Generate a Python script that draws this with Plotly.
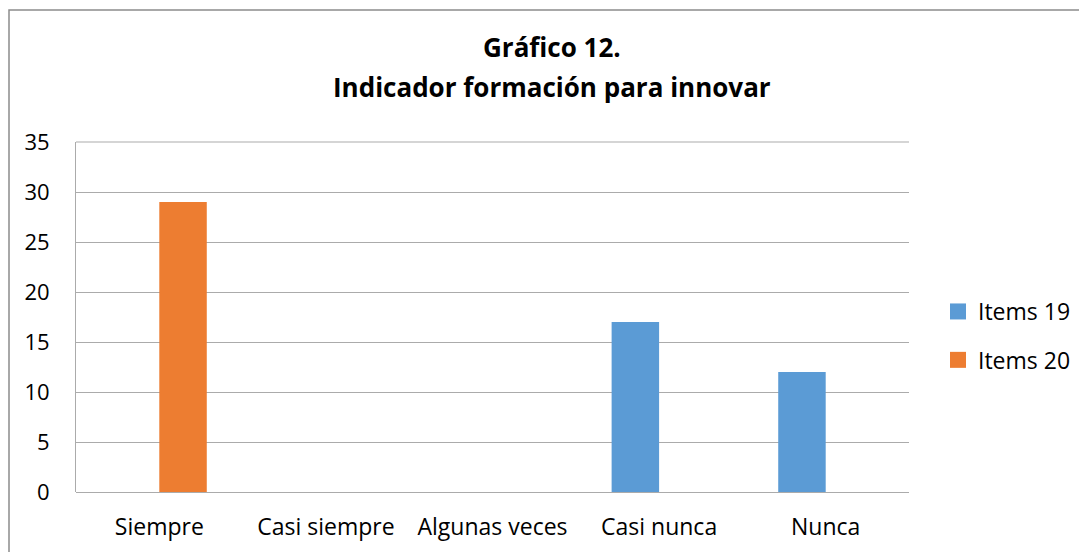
import plotly.graph_objects as go

categories = ["Siempre", "Casi siempre", "Algunas veces", "Casi nunca", "Nunca"]
items19 = [0, 0, 0, 17, 12]
items20 = [29, 0, 0, 0, 0]
y_ticks = [0, 5, 10, 15, 20, 25, 30, 35]
series_names = ["Items 19", "Items 20"]
series_colors = ["#5B9BD5", "#ED7D31"]

W, H = 1087, 552
OFF = 8  # page body margin offset
# plot area in page pixels
PL, PR, PT, PB = 76, 909, 142, 492
ml = PL - OFF
mr = W - (PR - OFF)
mt = PT - OFF
mb = H - (PB - OFF)
pw = W - ml - mr
ph = H - mt - mb

FONT = "'Open Sans', sans-serif"

def fx(p):
    return (p - OFF - ml) / pw

def fy(p):
    return (H - mb - (p - OFF)) / ph

fig = go.Figure()
for name, vals, col in zip(series_names, [items19, items20], series_colors):
    fig.add_trace(go.Bar(name=name, x=categories, y=vals, showlegend=False,
                         marker=dict(color=col, line=dict(width=0))))
for i, (name, col) in enumerate(zip(series_names, series_colors)):
    fig.add_trace(go.Scatter(name=name, x=[None], y=[None], mode="markers", legendgroup=f"g{i}",
                             marker=dict(symbol="square", size=16, color=col, line=dict(width=0))))

fig.update_layout(
    width=W, height=H,
    margin=dict(l=ml, r=mr, t=mt, b=mb, autoexpand=False),
    paper_bgcolor="white", plot_bgcolor="white",
    barmode="group", bargap=0.43, bargroupgap=0,
    font=dict(family=FONT, size=23, color="#000000"),
    showlegend=True,
    legend=dict(x=fx(938), y=fy(290), xanchor="left", yanchor="top",
                font=dict(family=FONT, size=23, color="#000000"),
                tracegroupgap=15.5, itemwidth=30, bgcolor="rgba(0,0,0,0)"),
    xaxis=dict(showgrid=False, showline=False, zeroline=False,
               ticks="outside", ticklen=14, tickcolor="rgba(0,0,0,0)",
               tickfont=dict(family=FONT, size=23)),
    yaxis=dict(range=[0, 35], tickvals=y_ticks, showgrid=True, gridcolor="#ABABAB", gridwidth=1,
               zeroline=True, zerolinecolor="#ABABAB", zerolinewidth=1,
               showline=True, linecolor="#ABABAB", linewidth=1,
               ticks="outside", ticklen=21, tickcolor="rgba(0,0,0,0)",
               tickfont=dict(family=FONT, size=22)),
    annotations=[
        dict(text="<b>Gráfico 12.</b>", xref="paper", yref="paper", x=fx(551.5), y=fy(47),
             xanchor="center", yanchor="middle", showarrow=False,
             font=dict(family=FONT, size=26, color="#000000")),
        dict(text="<b>Indicador formación para innovar</b>", xref="paper", yref="paper", x=fx(551.5), y=fy(86.5),
             xanchor="center", yanchor="middle", showarrow=False,
             font=dict(family=FONT, size=26, color="#000000")),
    ],
    shapes=[
        dict(type="rect", xref="paper", yref="paper", x0=fx(9), x1=fx(1110), y0=fy(575), y1=fy(10),
             line=dict(color="#8C8C8C", width=1.5), fillcolor="rgba(0,0,0,0)", layer="below"),
        dict(type="line", xref="paper", yref="paper", x0=0, x1=1, y0=1, y1=1,
             line=dict(color="#ABABAB", width=1)),
    ],
)

fig.write_html("out.html")
